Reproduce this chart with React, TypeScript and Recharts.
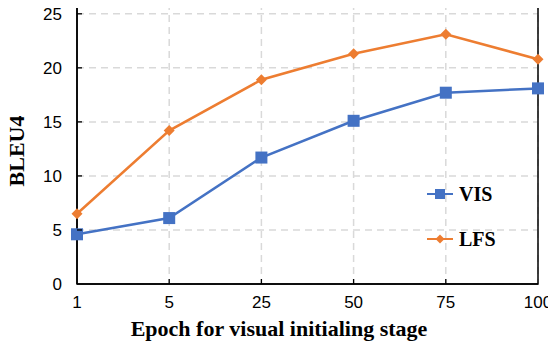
import React from 'react';
import { LineChart, Line, XAxis, YAxis, CartesianGrid, ReferenceArea } from 'recharts';

const epochs = ['1', '5', '25', '50', '75', '100'];
const visScores = [4.6, 6.1, 11.7, 15.1, 17.7, 18.1];
const lfsScores = [6.5, 14.2, 18.9, 21.3, 23.1, 20.8];
const yTicks = [0, 5, 10, 15, 20, 25];
const yMax = 26;

const BLUE = '#4472C4';
const ORANGE = '#ED7D31';
const tickFont = '"Liberation Sans", Arial, sans-serif';
const labelFont = '"Liberation Serif", "Times New Roman", serif';

const data = epochs.map((e, i) => ({ epoch: e, vis: visScores[i], lfs: lfsScores[i] }));

const YTick = (props: any) => {
    const { x, y, payload } = props;
    return (
        <g>
            {payload.value > 0 && <line x1={x} x2={x + 5} y1={y} y2={y} stroke="#000" strokeWidth={1.3} />}
            <text x={x - 15} y={y} dy={6} textAnchor="end" fontSize={17} fontFamily={tickFont} fill="#000">
                {payload.value}
            </text>
        </g>
    );
};

const XTick = (props: any) => {
    const { x, y, payload, index } = props;
    const edge = index === 0 || index === epochs.length - 1;
    return (
        <g>
            {!edge && <line x1={x} x2={x} y1={y} y2={y - 5} stroke="#000" strokeWidth={1.3} />}
            <text x={x} y={y} dy={24} textAnchor="middle" fontSize={17} fontFamily={tickFont} fill="#000">
                {payload.value}
            </text>
        </g>
    );
};

const Square = (props: any) => {
    const { cx, cy } = props;
    return <rect x={cx - 6} y={cy - 6} width={12} height={12} fill={BLUE} />;
};

const Diamond = (props: any) => {
    const { cx, cy } = props;
    return <path d={`M${cx},${cy - 5.5} L${cx + 5.5},${cy} L${cx},${cy + 5.5} L${cx - 5.5},${cy} Z`} fill={ORANGE} />;
};

export default function App() {
    return (
        <div style={{ position: 'relative', margin: -8, width: 556, height: 350, background: '#fff' }}>
            <LineChart width={556} height={350} data={data} margin={{ top: 3, right: 18, left: 0, bottom: 0 }}>
                <CartesianGrid stroke="#d9d9d9" strokeDasharray="7 5" strokeWidth={1.5} />
                <XAxis
                    dataKey="epoch"
                    height={66}
                    tickSize={0}
                    tickMargin={0}
                    tick={<XTick />}
                    axisLine={{ stroke: '#000', strokeWidth: 1.5 }}
                    interval={0}
                />
                <YAxis
                    domain={[0, yMax]}
                    ticks={yTicks}
                    width={77}
                    tickSize={0}
                    tickMargin={0}
                    tick={<YTick />}
                    axisLine={{ stroke: '#000', strokeWidth: 1.5 }}
                />
                {/* frame around the plot area */}
                <ReferenceArea
                    x1={epochs[0]}
                    x2={epochs[epochs.length - 1]}
                    y1={0}
                    y2={yMax}
                    fill="none"
                    fillOpacity={0}
                    stroke="#000"
                    strokeWidth={1.5}
                    ifOverflow="visible"
                />
                <Line type="linear" dataKey="vis" stroke={BLUE} strokeWidth={2.5} dot={<Square />} activeDot={false} isAnimationActive={false} />
                <Line type="linear" dataKey="lfs" stroke={ORANGE} strokeWidth={2.5} dot={<Diamond />} activeDot={false} isAnimationActive={false} />
            </LineChart>
            <div style={{ position: 'absolute', left: 427, top: 182, fontFamily: labelFont, fontWeight: 'bold', fontSize: 20, color: '#000' }}>
                <div style={{ display: 'flex', alignItems: 'center', height: 24, marginBottom: 21 }}>
                    <svg width={26} height={14} style={{ marginRight: 6 }}>
                        <line x1={0} x2={26} y1={7} y2={7} stroke={BLUE} strokeWidth={2} />
                        <rect x={8} y={2} width={10} height={10} fill={BLUE} />
                    </svg>
                    VIS
                </div>
                <div style={{ display: 'flex', alignItems: 'center', height: 24 }}>
                    <svg width={26} height={14} style={{ marginRight: 6 }}>
                        <line x1={0} x2={26} y1={7} y2={7} stroke={ORANGE} strokeWidth={2} />
                        <path d="M13,2.5 L17.5,7 L13,11.5 L8.5,7 Z" fill={ORANGE} />
                    </svg>
                    LFS
                </div>
            </div>
            <div style={{ position: 'absolute', left: 279, top: 316, transform: 'translateX(-50%)', whiteSpace: 'nowrap', fontFamily: labelFont, fontWeight: 'bold', fontSize: 22 }}>
                Epoch for visual initialing stage
            </div>
            <div style={{ position: 'absolute', left: 17, top: 151, transform: 'translate(-50%, -50%) rotate(-90deg)', whiteSpace: 'nowrap', fontFamily: labelFont, fontWeight: 'bold', fontSize: 22 }}>
                BLEU4
            </div>
        </div>
    );
}
